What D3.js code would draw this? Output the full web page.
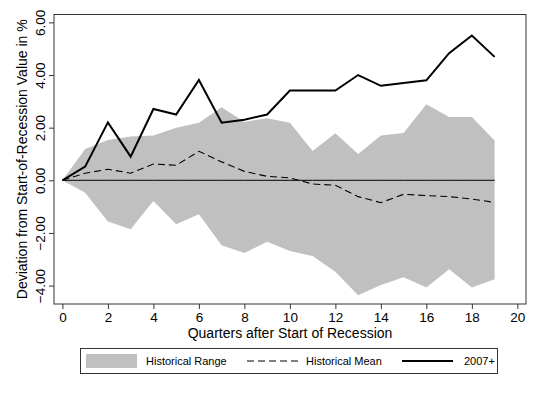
<!DOCTYPE html>
<html>
<head>
<meta charset="utf-8">
<script src="https://cdn.jsdelivr.net/npm/d3@7"></script>
<style>
  body { margin: 0; background: #fff; }
  svg { font-family: "Liberation Sans", Arial, sans-serif; display: block; }
</style>
</head>
<body>
<svg width="540" height="393"></svg>
<script>
// quarters after start of recession
const quarters = [0, 1, 2, 3, 4, 5, 6, 7, 8, 9, 10, 11, 12, 13, 14, 15, 16, 17, 18, 19];
const rangeHigh = [0, 1.19, 1.53, 1.66, 1.7, 2.0, 2.19, 2.78, 2.22, 2.36, 2.19, 1.11, 1.79, 1.0, 1.7, 1.8, 2.89, 2.41, 2.41, 1.51];
const rangeLow = [0, -0.47, -1.57, -1.86, -0.79, -1.67, -1.29, -2.47, -2.76, -2.33, -2.69, -2.88, -3.47, -4.37, -3.98, -3.68, -4.07, -3.38, -4.07, -3.76];
const histMean = [0, 0.27, 0.42, 0.27, 0.62, 0.57, 1.1, 0.7, 0.34, 0.15, 0.09, -0.14, -0.19, -0.62, -0.85, -0.53, -0.58, -0.62, -0.71, -0.84];
const recent = [0, 0.52, 2.2, 0.9, 2.71, 2.5, 3.81, 2.19, 2.3, 2.5, 3.41, 3.41, 3.41, 4.0, 3.59, 3.7, 3.8, 4.83, 5.5, 4.69];
const xTicks = [0, 2, 4, 6, 8, 10, 12, 14, 16, 18, 20];
const yTicks = [-4, -2, 0, 2, 4, 6];

const svg = d3.select("svg");
const pLeft = 54, pRight = 526, pTop = 14.5, pBottom = 304;

const x = d3.scaleLinear().domain([-0.37, 20.38]).range([pLeft, pRight]);
const y = d3.scaleLinear().domain([-4.7, 6.3]).range([pBottom, pTop]);

const rows = quarters.map((q, i) => ({ q: q, lo: rangeLow[i], hi: rangeHigh[i], m: histMean[i], r: recent[i] }));

// historical range band
svg.append("path")
    .datum(rows)
    .attr("fill", "#c0c0c0")
    .attr("d", d3.area().x(d => x(d.q)).y0(d => y(d.lo)).y1(d => y(d.hi)));

// zero line
svg.append("path")
    .datum(rows)
    .attr("fill", "none")
    .attr("stroke", "#000")
    .attr("stroke-width", 1)
    .attr("d", d3.line().x(d => x(d.q)).y(() => y(0)));

// historical mean
svg.append("path")
    .datum(rows)
    .attr("fill", "none")
    .attr("stroke", "#000")
    .attr("stroke-width", 1.1)
    .attr("stroke-dasharray", "7,4")
    .attr("d", d3.line().x(d => x(d.q)).y(d => y(d.m)));

// 2007+
svg.append("path")
    .datum(rows)
    .attr("fill", "none")
    .attr("stroke", "#000")
    .attr("stroke-width", 2)
    .attr("d", d3.line().x(d => x(d.q)).y(d => y(d.r)));

// frame
svg.append("rect")
    .attr("x", pLeft).attr("y", pTop)
    .attr("width", pRight - pLeft).attr("height", pBottom - pTop)
    .attr("fill", "none").attr("stroke", "#333").attr("stroke-width", 1);

// x axis
const xAxis = svg.append("g")
    .attr("transform", "translate(0," + pBottom + ")")
    .call(d3.axisBottom(x).tickValues(xTicks).tickSize(5).tickPadding(3).tickFormat(d3.format("d")));
xAxis.select(".domain").remove();
xAxis.selectAll("line").attr("stroke", "#333");
xAxis.selectAll("text").attr("font-size", 13.5).attr("fill", "#000");
xAxis.attr("font-family", null);

// y axis, rotated labels
const yAxis = svg.append("g")
    .attr("transform", "translate(" + pLeft + ",0)")
    .call(d3.axisLeft(y).tickValues(yTicks).tickSize(5).tickFormat(d3.format(".2f")));
yAxis.select(".domain").remove();
yAxis.attr("font-family", null);
yAxis.selectAll("line").attr("stroke", "#333");
yAxis.selectAll("text")
    .attr("font-size", 13.5).attr("fill", "#000")
    .attr("x", null).attr("dy", null)
    .attr("text-anchor", "middle")
    .attr("transform", "translate(-9,0) rotate(-90)");

// axis titles
svg.append("text")
    .attr("x", (pLeft + pRight) / 2).attr("y", 338)
    .attr("text-anchor", "middle").attr("font-size", 14)
    .text("Quarters after Start of Recession");

svg.append("text")
    .attr("transform", "translate(27," + ((pTop + pBottom) / 2) + ") rotate(-90)")
    .attr("text-anchor", "middle").attr("font-size", 14)
    .text("Deviation from Start-of-Recession Value in %");

// legend
const lg = svg.append("g");
lg.append("rect")
    .attr("x", 80.5).attr("y", 348.5).attr("width", 417).attr("height", 25)
    .attr("fill", "#fff").attr("stroke", "#333").attr("stroke-width", 1);
lg.append("rect")
    .attr("x", 86).attr("y", 354).attr("width", 51).attr("height", 14)
    .attr("fill", "#c0c0c0");
lg.append("text").attr("x", 146).attr("y", 365).attr("font-size", 11).text("Historical Range");
lg.append("line")
    .attr("x1", 247).attr("x2", 298).attr("y1", 361).attr("y2", 361)
    .attr("stroke", "#000").attr("stroke-width", 1.1).attr("stroke-dasharray", "7,4");
lg.append("text").attr("x", 306).attr("y", 365).attr("font-size", 11).text("Historical Mean");
lg.append("line")
    .attr("x1", 402).attr("x2", 453).attr("y1", 361).attr("y2", 361)
    .attr("stroke", "#000").attr("stroke-width", 2);
lg.append("text").attr("x", 464).attr("y", 365).attr("font-size", 11).text("2007+");
</script>
</body>
</html>
